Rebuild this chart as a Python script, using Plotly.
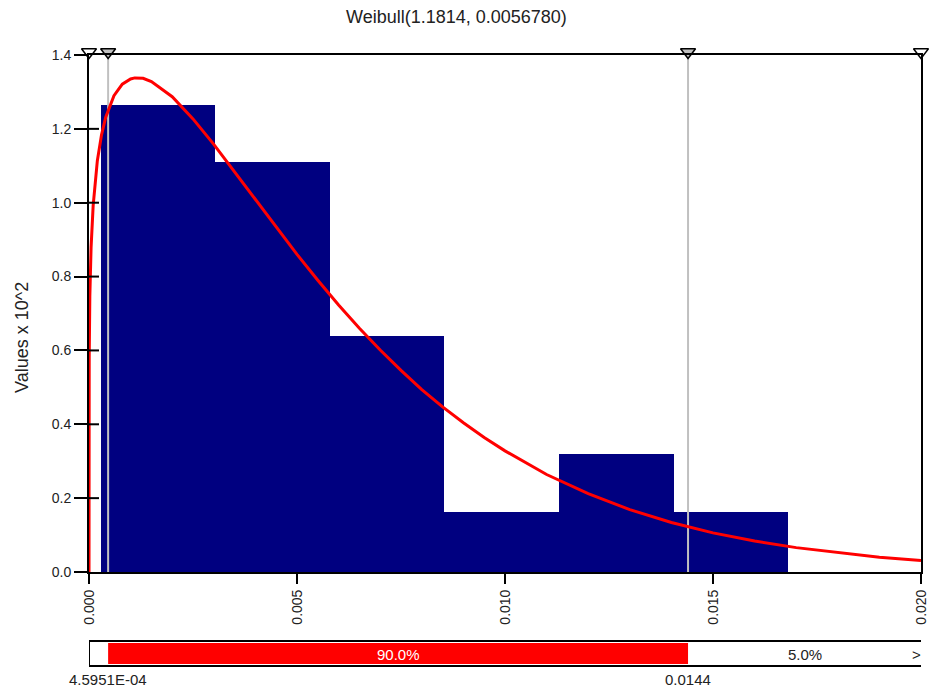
import plotly.graph_objects as go

# ---- data ----
title_text = "Weibull(1.1814, 0.0056780)"
y_title = "Values x 10^2"

bin_edges = [0.000277, 0.003032, 0.005787, 0.008542, 0.011297, 0.014052, 0.016807]
bin_heights = [1.265, 1.111, 0.639, 0.163, 0.319, 0.162]

curve_x = [0.0, 0.000001, 0.000005, 0.00002, 0.00005, 0.0001, 0.0002, 0.0003, 0.0004,
           0.0006, 0.0008, 0.001, 0.0011, 0.0013, 0.0015, 0.002, 0.0025, 0.003, 0.0035,
           0.004, 0.0045, 0.005, 0.0055, 0.006, 0.0065, 0.007, 0.0075, 0.008, 0.0085,
           0.009, 0.0095, 0.010, 0.011, 0.012, 0.013, 0.014, 0.015, 0.016, 0.017,
           0.018, 0.019, 0.020]
curve_y = [0.0, 0.434, 0.580, 0.746, 0.879, 0.992, 1.113, 1.183, 1.231,
           1.290, 1.321, 1.335, 1.338, 1.337, 1.328, 1.287, 1.227, 1.158, 1.084,
           1.008, 0.933, 0.860, 0.790, 0.723, 0.660, 0.601, 0.546, 0.494, 0.447,
           0.404, 0.364, 0.328, 0.264, 0.212, 0.169, 0.134, 0.106, 0.084, 0.066,
           0.052, 0.040, 0.031]

x_range = [0.0, 0.020]
y_range = [0.0, 1.4]
x_ticks = [0.0, 0.005, 0.010, 0.015, 0.020]
y_ticks = [0.0, 0.2, 0.4, 0.6, 0.8, 1.0, 1.2, 1.4]

lower_val = 0.00045951
upper_val = 0.0144
lower_label = "4.5951E-04"
upper_label = "0.0144"
mid_pct = "90.0%"
right_pct = "5.0%"

marker_x = [0.0, lower_val, upper_val, 0.020]
marker_fill = ["white", "#C0C0C0", "#C0C0C0", "white"]

# ---- figure ----
FONT = "Liberation Sans, Arial, sans-serif"
TXT = "#222222"
W, H = 929, 693
ML, MR, MT, MB = 89, 8, 55, 27
plot_w = W - ML - MR
plot_h = H - MT - MB
main_bottom_px = 572
main_dom0 = (H - MB - main_bottom_px) / plot_h

def py(pix):
    # pixel row -> paper y
    return (H - MB - pix) / plot_h

def px(pix):
    return (pix - ML) / plot_w

centers = [(bin_edges[i] + bin_edges[i + 1]) / 2 for i in range(len(bin_heights))]
widths = [bin_edges[i + 1] - bin_edges[i] for i in range(len(bin_heights))]

fig = go.Figure()
fig.add_trace(go.Bar(x=centers, y=bin_heights, width=widths,
                     marker=dict(color="#000080", line=dict(width=0)),
                     hoverinfo="skip", showlegend=False))

for v in [lower_val, upper_val]:
    fig.add_trace(go.Scatter(x=[v, v], y=y_range, mode="lines",
                             line=dict(color="#C0C0C0", width=2),
                             hoverinfo="skip", showlegend=False))

fig.add_trace(go.Scatter(x=curve_x, y=curve_y, mode="lines",
                         line=dict(color="#FF0000", width=3),
                         hoverinfo="skip", showlegend=False))

fig.add_trace(go.Scatter(x=marker_x, y=[y_range[1]] * len(marker_x), mode="markers",
                         marker=dict(symbol="triangle-up", angle=180, size=13,
                                     color=marker_fill, standoff=3,
                                     line=dict(color="black", width=1.5)),
                         cliponaxis=False, hoverinfo="skip", showlegend=False))

fig.update_layout(
    width=W, height=H,
    margin=dict(l=ML, r=MR, t=MT, b=MB, pad=0, autoexpand=False),
    paper_bgcolor="white", plot_bgcolor="white",
    font=dict(family=FONT, size=14, color=TXT),
    bargap=0,
    xaxis=dict(range=x_range, tickvals=x_ticks, tickformat=".3f", tickangle=-90,
               ticks="outside", ticklen=10, tickwidth=2, tickcolor="black",
               showline=True, linecolor="black", linewidth=2, mirror=True,
               showgrid=False, zeroline=False, anchor="y", automargin=False,
               tickfont=dict(family=FONT, size=14, color=TXT)),
    yaxis=dict(range=y_range, tickvals=y_ticks, tickformat=".1f",
               domain=[main_dom0, 1],
               ticks="outside", ticklen=13, tickwidth=2, tickcolor="black",
               showline=True, linecolor="black", linewidth=2, mirror=True,
               showgrid=False, zeroline=False, anchor="x", automargin=False,
               tickfont=dict(family=FONT, size=14, color=TXT)),
)

bar_top = py(641)
bar_bot = py(666)
shapes = [
    dict(type="rect", xref="x", yref="paper", x0=lower_val, x1=upper_val,
         y0=py(664), y1=py(643), fillcolor="#FF0000", line=dict(width=0), layer="above"),
    dict(type="line", xref="x", yref="paper", x0=x_range[0], x1=x_range[1],
         y0=bar_top, y1=bar_top, line=dict(color="black", width=2)),
    dict(type="line", xref="x", yref="paper", x0=x_range[0], x1=x_range[1],
         y0=bar_bot, y1=bar_bot, line=dict(color="black", width=2)),
    dict(type="line", xref="x", yref="paper", x0=x_range[0], x1=x_range[0],
         y0=bar_bot, y1=bar_top, line=dict(color="black", width=2)),
]
# inside half of the crossing y ticks
for t in y_ticks[1:-1]:
    shapes.append(dict(type="line", xref="paper", yref="y", x0=0, x1=10 / plot_w,
                       y0=t, y1=t, line=dict(color="black", width=2), layer="above"))
fig.update_layout(shapes=shapes)

ann = [
    dict(text=title_text, xref="paper", yref="paper", x=px(456), y=py(17),
         xanchor="center", yanchor="middle", showarrow=False,
         font=dict(family=FONT, size=18, color=TXT)),
    dict(text=y_title, xref="paper", yref="paper", x=px(22), y=py(338),
         xanchor="center", yanchor="middle", textangle=-90, showarrow=False,
         font=dict(family=FONT, size=18, color=TXT)),
    dict(text=mid_pct, xref="x", yref="paper", x=(lower_val + upper_val) / 2, y=py(654),
         xanchor="center", yanchor="middle", showarrow=False,
         font=dict(family=FONT, size=15, color="white")),
    dict(text=right_pct, xref="x", yref="paper", x=(upper_val + x_range[1]) / 2, y=py(654),
         xanchor="center", yanchor="middle", showarrow=False,
         font=dict(family=FONT, size=15, color=TXT)),
    dict(text=">", xref="paper", yref="paper", x=px(916), y=py(654),
         xanchor="center", yanchor="middle", showarrow=False,
         font=dict(family=FONT, size=15, color=TXT)),
    dict(text=lower_label, xref="x", yref="paper", x=lower_val, y=py(679),
         xanchor="center", yanchor="middle", showarrow=False,
         font=dict(family=FONT, size=15, color=TXT)),
    dict(text=upper_label, xref="x", yref="paper", x=upper_val, y=py(679),
         xanchor="center", yanchor="middle", showarrow=False,
         font=dict(family=FONT, size=15, color=TXT)),
]
fig.update_layout(annotations=ann)

fig.write_html("out.html")
